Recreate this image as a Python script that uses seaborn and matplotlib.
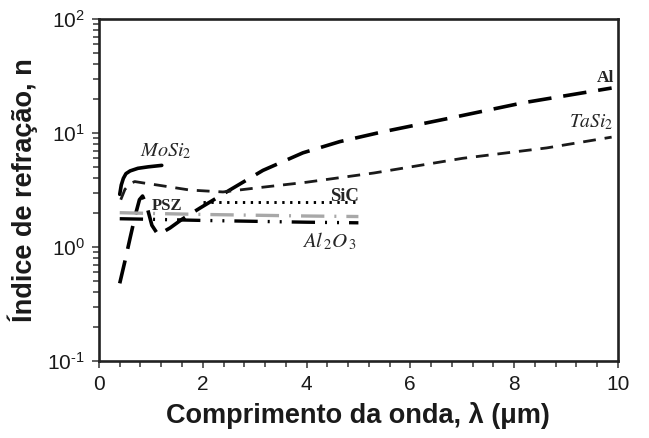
import numpy as np
import pandas as pd
import matplotlib
matplotlib.use("Agg")
import matplotlib.pyplot as plt
from matplotlib.ticker import LogLocator, MultipleLocator, NullFormatter, FuncFormatter
import seaborn as sns

# Refractive index n vs wavelength (um)
al_wl = [0.40, 0.50, 0.60, 0.70, 0.78, 0.84, 0.92, 1.02, 1.14, 1.37, 1.60, 1.95, 2.52, 3.16, 3.93, 4.64, 5.45, 6.76, 8.17, 9.88]
al_n = [0.48, 0.75, 1.20, 1.90, 2.60, 2.80, 2.30, 1.55, 1.28, 1.47, 1.75, 2.20, 3.16, 4.70, 6.70, 8.40, 10.2, 13.5, 18.4, 24.8]

tasi2_wl = [0.42, 0.50, 0.60, 0.69, 0.85, 1.12, 1.75, 2.39, 3.04, 4.00, 5.30, 7.01, 8.63, 9.88]
tasi2_n = [2.60, 3.20, 3.60, 3.75, 3.65, 3.50, 3.16, 3.04, 3.30, 3.70, 4.46, 6.00, 7.40, 9.20]

mosi2_wl = [0.40, 0.43, 0.47, 0.52, 0.60, 0.75, 0.95, 1.21]
mosi2_n = [2.90, 3.50, 4.00, 4.40, 4.65, 4.90, 5.05, 5.20]

sic_wl = [2.0, 5.0]
sic_n = [2.47, 2.47]

psz_wl = [0.40, 1.00, 2.00, 3.00, 4.00, 5.00]
psz_n = [2.00, 1.97, 1.93, 1.90, 1.87, 1.85]

al2o3_wl = [0.40, 1.00, 2.00, 3.00, 4.00, 5.00]
al2o3_n = [1.77, 1.75, 1.71, 1.68, 1.65, 1.63]

sns.set_theme(style="ticks")
plt.rcParams["font.family"] = ["Liberation Sans", "DejaVu Sans"]
plt.rcParams["mathtext.fontset"] = "stix"

fig = plt.figure(figsize=(6.49, 4.38), dpi=100)
ax = fig.add_axes([0.1525, 0.1758, 0.7995, 0.7808])

series = [
    (al_wl, al_n, dict(color="black", lw=2.6, linestyle=(0, (6.5, 3.3)))),
    (tasi2_wl, tasi2_n, dict(color="#1a1a1a", lw=2.0, linestyle=(0, (4.6, 3.2)))),
    (mosi2_wl, mosi2_n, dict(color="black", lw=2.6, linestyle="-")),
    (sic_wl, sic_n, dict(color="black", lw=2.1, linestyle=(0, (0.8, 1.9)))),
    (psz_wl, psz_n, dict(color="#a8a8a8", lw=2.4, linestyle=(0, (7, 3, 0.6, 3)))),
    (al2o3_wl, al2o3_n, dict(color="black", lw=2.4, linestyle=(0, (7, 3, 0.6, 3, 0.6, 3)))),
]
for wl, n, kw in series:
    df = pd.DataFrame({"wl": wl, "n": n})
    sns.lineplot(data=df, x="wl", y="n", ax=ax, estimator=None, sort=False, **kw)

ax.set_yscale("log")
ax.set_xlim(0, 10)
ax.set_ylim(0.1, 100)
ax.xaxis.set_major_locator(MultipleLocator(2))
ax.xaxis.set_minor_locator(MultipleLocator(0.4))
ax.yaxis.set_major_locator(LogLocator(base=10))
ax.yaxis.set_minor_locator(LogLocator(base=10, subs=np.arange(2, 10)))
ax.yaxis.set_minor_formatter(NullFormatter())
ax.yaxis.set_major_formatter(
    FuncFormatter(lambda v, p: r"$\mathregular{10^{%s}}$" % ("%d" % round(np.log10(v))).replace("-", "\\text{-}")))

for s in ax.spines.values():
    s.set_linewidth(1.9)
    s.set_color("#222222")
ax.tick_params(which="both", direction="out", width=1.2, color="#444444",
               top=False, right=False, labelsize=15, pad=5, labelcolor="#1a1a1a")
ax.tick_params(which="major", length=5)
ax.tick_params(which="minor", length=4)

ax.set_xlabel("Comprimento da onda, λ (μm)", fontsize=19.5, fontweight="bold", labelpad=6,
              color="#1a1a1a")
ax.set_ylabel("Índice de refração, n", fontsize=19.5, fontweight="bold", labelpad=7,
              color="#1a1a1a")

serif = ["Liberation Serif", "DejaVu Serif"]
ax.text(0.8, 6.9, r"$MoSi_2$", fontsize=14.5, ha="left", va="center")
ax.text(1.02, 2.29, "PSZ", fontsize=12, fontweight="bold", family=serif, ha="left", va="center")
ax.text(4.45, 2.78, "SiC", fontsize=13.5, fontweight="bold", family=serif, ha="left", va="center")
ax.text(3.92, 1.12, r"$Al_{\,2}O_{\,3}$", fontsize=15, ha="left", va="center")
ax.text(9.6, 30.5, "Al", fontsize=12.5, fontweight="bold", family=serif, ha="left", va="center")
ax.text(9.05, 12.5, r"$TaSi_2$", fontsize=14, ha="left", va="center")

ax.grid(False)
fig.savefig("out.png", dpi=100)
